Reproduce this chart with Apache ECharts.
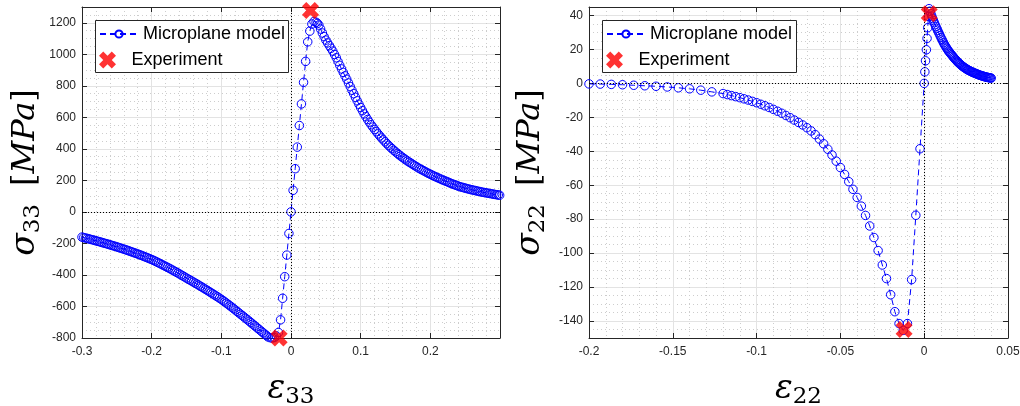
<!DOCTYPE html>
<html><head><meta charset="utf-8">
<script src="https://cdn.jsdelivr.net/npm/echarts@6/dist/echarts.min.js"></script>
<style>html,body{margin:0;padding:0;background:#fff}#c{width:1020px;height:406px}</style>
</head><body><div id="c"></div>
<script>
// ---- data ----
const strain33 = [
 -0.3000,-0.2975,-0.2950,-0.2925,-0.2900,-0.2875,-0.2850,-0.2825,-0.2800,-0.2775,
 -0.2750,-0.2725,-0.2700,-0.2675,-0.2650,-0.2625,-0.2600,-0.2575,-0.2550,-0.2525,
 -0.2500,-0.2475,-0.2450,-0.2425,-0.2400,-0.2375,-0.2350,-0.2325,-0.2300,-0.2275,
 -0.2250,-0.2225,-0.2200,-0.2175,-0.2150,-0.2125,-0.2100,-0.2075,-0.2050,-0.2025,
 -0.2000,-0.1975,-0.1950,-0.1925,-0.1900,-0.1875,-0.1850,-0.1825,-0.1800,-0.1775,
 -0.1750,-0.1725,-0.1700,-0.1675,-0.1650,-0.1625,-0.1600,-0.1575,-0.1550,-0.1525,
 -0.1500,-0.1475,-0.1450,-0.1425,-0.1400,-0.1375,-0.1350,-0.1325,-0.1300,-0.1275,
 -0.1250,-0.1225,-0.1200,-0.1175,-0.1150,-0.1125,-0.1100,-0.1075,-0.1050,-0.1025,
 -0.1000,-0.0975,-0.0950,-0.0925,-0.0900,-0.0875,-0.0850,-0.0825,-0.0800,-0.0775,
 -0.0750,-0.0725,-0.0700,-0.0675,-0.0650,-0.0625,-0.0600,-0.0575,-0.0550,-0.0525,
 -0.0500,-0.0475,-0.0450,-0.0425,-0.0400,-0.0375,-0.0350,
 -0.0330,-0.0300,-0.0270,-0.0240,-0.0210,-0.0180,
 -0.015,-0.012,-0.009,-0.006,-0.003,0.000,0.003,0.006,0.009,0.012,0.015,0.018,0.021,0.024,0.027,0.030,0.033,
 0.0360,0.0380,0.0400,0.0425,0.0450,0.0475,0.0500,0.0525,0.0550,0.0575,
 0.0600,0.0625,0.0650,0.0675,0.0700,0.0725,0.0750,0.0775,0.0800,0.0825,
 0.0850,0.0875,0.0900,0.0925,0.0950,0.0975,0.1000,0.1025,0.1050,0.1075,
 0.1100,0.1125,0.1150,0.1175,0.1200,0.1225,0.1250,0.1275,0.1300,0.1325,
 0.1350,0.1375,0.1400,0.1425,0.1450,0.1475,0.1500,0.1525,0.1550,0.1575,
 0.1600,0.1625,0.1650,0.1675,0.1700,0.1725,0.1750,0.1775,0.1800,0.1825,
 0.1850,0.1875,0.1900,0.1925,0.1950,0.1975,0.2000,0.2025,0.2050,0.2075,
 0.2100,0.2125,0.2150,0.2175,0.2200,0.2225,0.2250,0.2275,0.2300,0.2325,
 0.2350,0.2375,0.2400,0.2425,0.2450,0.2475,0.2500,0.2525,0.2550,0.2575,
 0.2600,0.2625,0.2650,0.2675,0.2700,0.2725,0.2750,0.2775,0.2800,0.2825,
 0.2850,0.2875,0.2900,0.2925,0.2950,0.2975,0.2995
];
const stress33 = [
 -160,-162.8,-165.6,-168.4,-171.3,-174.2,-177.2,-180.2,-183.2,-186.2,
 -189.3,-192.4,-195.6,-198.8,-202,-205.2,-208.5,-211.8,-215.2,-218.6,
 -222,-225.5,-229,-232.6,-236.2,-239.9,-243.6,-247.4,-251.3,-255.2,
 -259.2,-263.2,-267.3,-271.4,-275.6,-279.9,-284.2,-288.6,-293,-297.5,
 -302,-307.2,-312.5,-317.9,-323.3,-328.8,-334.4,-340,-345.7,-351.5,
 -357.3,-363.2,-369.2,-375.3,-381.4,-387.6,-393.9,-400.3,-406.7,-413.3,
 -420,-426.2,-432.5,-438.8,-445.2,-451.6,-458.1,-464.7,-471.3,-478,
 -484.7,-491.5,-498.3,-505.2,-512.1,-519.1,-526.1,-533.2,-540.3,-547.6,
 -555,-563,-571,-579.2,-587.5,-596,-604.5,-613.2,-622,-631,
 -640,-648.8,-657.6,-666.5,-675.4,-684.4,-693.4,-702.5,-711.6,-720.8,
 -730,-739.2,-748.5,-757.8,-767,-776,-785,
 -793,-798,-800,-797,-787,-765,
 -685,-548,-411,-274,-137,0,137,274,411,548,685,822,955,1079,1147,1192,1208,
 1203,1196,1185,1160,1135,1112,1090,1072,1055,1038,
 1020,999,978,954,930,907,885,863,842,818,
 795,772,750,727,705,683,662,642,622,604,
 586,569,553,538,523,509,495,482,469,457,
 445,433,422,411,401,391,381,372,363,354,
 346,338,330,322,315,308,301,294,287,280,
 274,268,262,256,250,244,239,233,228,223,
 218,213,208,203,199,194,190,185,180,176,
 172,168,164,160,157,154,151,148,145,142,
 140,137,135,132,130,127,125,123,121,119,
 117,115,113,111,109,107.5,106
];
const strain22 = [
 -0.2000,-0.1933,-0.1867,-0.1800,-0.1733,-0.1667,-0.1600,-0.1533,-0.1467,-0.1400,-0.1333,-0.1267,
 -0.1200,-0.1175,-0.1150,-0.1125,-0.1100,-0.1075,-0.1050,-0.1025,-0.1000,-0.0975,
 -0.0950,-0.0925,-0.0900,-0.0875,-0.0850,-0.0825,-0.0800,-0.0775,-0.0750,-0.0725,
 -0.0700,-0.0675,-0.0650,-0.0625,-0.0600,-0.0575,-0.0550,-0.0525,-0.0500,-0.0475,
 -0.0450,-0.0425,-0.0400,-0.0375,-0.0350,-0.0325,-0.0300,-0.0275,-0.0250,-0.0225,
 -0.0200,-0.0175,-0.0150,-0.0125,-0.0100,-0.0075,-0.0050,-0.0025,
 0.0000,0.0004,0.0008,0.0013,0.0017,0.0021,0.0025,0.0029,
 0.0035,0.0040,0.0045,0.0050,0.0055,0.0060,0.0065,0.0070,0.0075,0.0080,
 0.0085,0.0090,0.0095,0.0100,0.0105,0.0110,0.0115,0.0120,0.0125,0.0130,
 0.0135,0.0140,0.0145,0.0150,0.0155,0.0160,0.0165,0.0170,0.0175,0.0180,
 0.0185,0.0190,0.0195,0.0200,0.0205,0.0210,0.0215,0.0220,0.0225,0.0230,
 0.0235,0.0240,0.0245,0.0250,0.0255,0.0260,0.0265,0.0270,0.0275,0.0280,
 0.0285,0.0290,0.0295,0.0300,0.0305,0.0310,0.0315,0.0320,0.0325,0.0330,
 0.0335,0.0340,0.0345,0.0350,0.0355,0.0360,0.0365,0.0370,0.0375,0.0380,
 0.0385,0.0390,0.0395,0.0400
];
const stress22 = [
 -0.3,-0.4,-0.6,-0.8,-1.1,-1.4,-1.7,-2.1,-2.6,-3.2,-4.0,-5.0,
 -6.0,-6.6,-7.2,-7.8,-8.4,-9.1,-9.8,-10.6,-11.4,-12.3,
 -13.2,-14.2,-15.3,-16.4,-17.6,-18.9,-20.2,-21.6,-23.0,-24.5,
 -26.1,-28.0,-30.2,-32.8,-35.6,-38.8,-42.2,-45.8,-49.6,-53.6,
 -57.9,-62.4,-67.2,-72.3,-77.8,-84.0,-90.8,-98.5,-107.0,-115.0,
 -124.5,-134.5,-141.5,-145.5,-141.5,-115.6,-77.7,-38.5,
 0,6.8,13.3,19.8,26.5,32.8,39.5,44.0,
 42.5,41.0,39.6,38.3,37.0,35.8,34.6,33.5,32.4,31.3,
 30.2,29.2,28.1,27.0,26.0,25.0,24.0,23.1,22.2,21.4,
 20.6,19.8,19.1,18.5,17.8,17.2,16.6,16.0,15.4,14.8,
 14.2,13.7,13.1,12.6,12.1,11.7,11.2,10.8,10.4,10.0,
 9.6,9.3,8.9,8.6,8.3,8.0,7.7,7.5,7.2,7.0,
 6.7,6.5,6.3,6.1,5.9,5.7,5.5,5.3,5.1,4.9,
 4.7,4.6,4.4,4.3,4.1,4.0,3.8,3.7,3.6,3.5,
 3.4,3.3,3.2,3.1
];
const expStrain33 = [-0.017, 0.028];
const expStress33 = [-800, 1278];
const expStrain22 = [-0.012, 0.003];
const expStress22 = [-145, 41];
const seriesNames = ['Microplane model', 'Experiment'];
const xRange33 = [-0.3, 0.3], xStep33 = 0.1;
const yRange33 = [-800, 1300], yStep33 = 200;
const xRange22 = [-0.2, 0.05], xStep22 = 0.05;
const yRange22 = [-150, 45];

// ---- chart ----
const AX = '#262626';
const SERIF = "'DejaVu Serif', 'Liberation Serif', serif";
const SANS = "'Liberation Sans', Arial, sans-serif";
const zip = (a, b) => a.map((v, i) => [v, b[i]]);
const fmt = v => String(+(+v).toFixed(4));
const nameRich = {
  g: {fontFamily: SERIF, fontStyle: 'italic', fontSize: 33, color: '#000'},
  n: {fontFamily: SERIF, fontSize: 23, color: '#000', padding: [16, 0, 0, 0]},
  sp: {width: 18},
  b: {fontFamily: SERIF, fontSize: 32, color: '#000'},
  i: {fontFamily: SERIF, fontStyle: 'italic', fontSize: 32, color: '#000'}
};
function axis(kind, gi, pos, range, step, minorN, name, gap, hideMax, hideMin) {
  const main = (pos === 'bottom' || pos === 'left');
  const a = {
    type: 'value', gridIndex: gi, position: pos, min: range[0], max: range[1],
    axisLine: {show: true, onZero: false, lineStyle: {color: AX, width: 1}},
    axisTick: {show: true, inside: true, length: 5, lineStyle: {color: AX, width: 1}},
    axisLabel: {show: main, color: AX, fontSize: 12, fontFamily: SANS, margin: kind === 'x' ? 8 : 6,
                formatter: fmt, showMinLabel: !hideMin, showMaxLabel: !hideMax},
    splitLine: {show: main, lineStyle: {color: '#e3e3e3', width: 1}},
    minorTick: {show: main, splitNumber: minorN, length: 0, lineStyle: {opacity: 0}},
    minorSplitLine: {show: main, lineStyle: {color: '#cdcdcd', width: 1, type: [1, 3]}},
    silent: true
  };
  if (step) a.interval = step; else a.splitNumber = 10;
  if (main && name) {
    a.name = name; a.nameLocation = 'middle'; a.nameGap = gap;
    a.nameTextStyle = {rich: nameRich};
  }
  return a;
}
const Xpath = 'path://M2.5,0L5,2.5L7.5,0L10,2.5L7.5,5L10,7.5L7.5,10L5,7.5L2.5,10L0,7.5L2.5,5L0,2.5Z';
function model(xi, yi, data) {
  return {
    type: 'line', name: seriesNames[0], xAxisIndex: xi, yAxisIndex: yi, data,
    symbol: 'circle', symbolSize: 8.5, showSymbol: true, showAllSymbol: true,
    itemStyle: {color: 'rgba(0,0,0,0)', borderColor: '#0000ff', borderWidth: 1},
    lineStyle: {color: '#0000ff', width: 1, type: [6, 4]},
    emphasis: {disabled: true}, silent: true, z: 2,
    markLine: {silent: true, symbol: ['none', 'none'], label: {show: false},
      lineStyle: {color: '#000', width: 1, type: [1, 2]}, emphasis: {disabled: true},
      data: [{xAxis: 0}, {yAxis: 0}], animation: false}
  };
}
function exper(xi, yi, data) {
  return {
    type: 'scatter', name: seriesNames[1], xAxisIndex: xi, yAxisIndex: yi, data,
    symbol: Xpath, symbolSize: 17, itemStyle: {color: '#ff0000'},
    emphasis: {disabled: true}, silent: true, z: 5
  };
}
const legTxt = {fontSize: 18, fontFamily: SANS, color: '#000', lineHeight: 20};
function leg(name, left, top, h) {
  return {data: [name], left, top, orient: 'vertical', itemWidth: 38, itemHeight: h,
    padding: 0, itemGap: 0, selectedMode: false, textStyle: legTxt, z: 10};
}
const chart = echarts.init(document.getElementById('c'), null, {renderer: 'canvas'});
chart.setOption({
  animation: false,
  backgroundColor: '#fff',
  grid: [
    {left: 82, top: 7, width: 418, height: 331, outerBoundsMode: 'none', containLabel: false},
    {left: 589, top: 7, width: 419, height: 331, outerBoundsMode: 'none', containLabel: false}
  ],
  xAxis: [
    axis('x', 0, 'bottom', xRange33, xStep33, 5, '{g|ε}{n|33}', 32, true),
    axis('x', 0, 'top', xRange33, xStep33, 5),
    axis('x', 1, 'bottom', xRange22, xStep22, 5, '{g|ε}{n|22}', 32, false),
    axis('x', 1, 'top', xRange22, xStep22, 5)
  ],
  yAxis: [
    axis('y', 0, 'left', yRange33, yStep33, 4, '{g|σ}{n|33}{sp|}{b|[}{i|MPa}{b|]}', 37, true),
    axis('y', 0, 'right', yRange33, yStep33, 4),
    axis('y', 1, 'left', yRange22, null, 4, '{g|σ}{n|22}{sp|}{b|[}{i|MPa}{b|]}', 39, true, true),
    axis('y', 1, 'right', yRange22, null, 4)
  ],
  legend: [
    leg(seriesNames[0], 99, 24, 9), leg(seriesNames[1], 99, 50, 17),
    leg(seriesNames[0], 606, 24, 9), leg(seriesNames[1], 606, 50, 17)
  ],
  graphic: [
    {type: 'rect', shape: {x: 95.5, y: 20.5, width: 193, height: 52}, z: 8,
     style: {fill: '#fff', stroke: AX, lineWidth: 1}, silent: true},
    {type: 'rect', shape: {x: 602.5, y: 20.5, width: 194, height: 52}, z: 8,
     style: {fill: '#fff', stroke: AX, lineWidth: 1}, silent: true}
  ],
  series: [
    model(0, 0, zip(strain33, stress33)),
    exper(0, 0, zip(expStrain33, expStress33)),
    model(2, 2, zip(strain22, stress22)),
    exper(2, 2, zip(expStrain22, expStress22))
  ]
});
</script></body></html>
